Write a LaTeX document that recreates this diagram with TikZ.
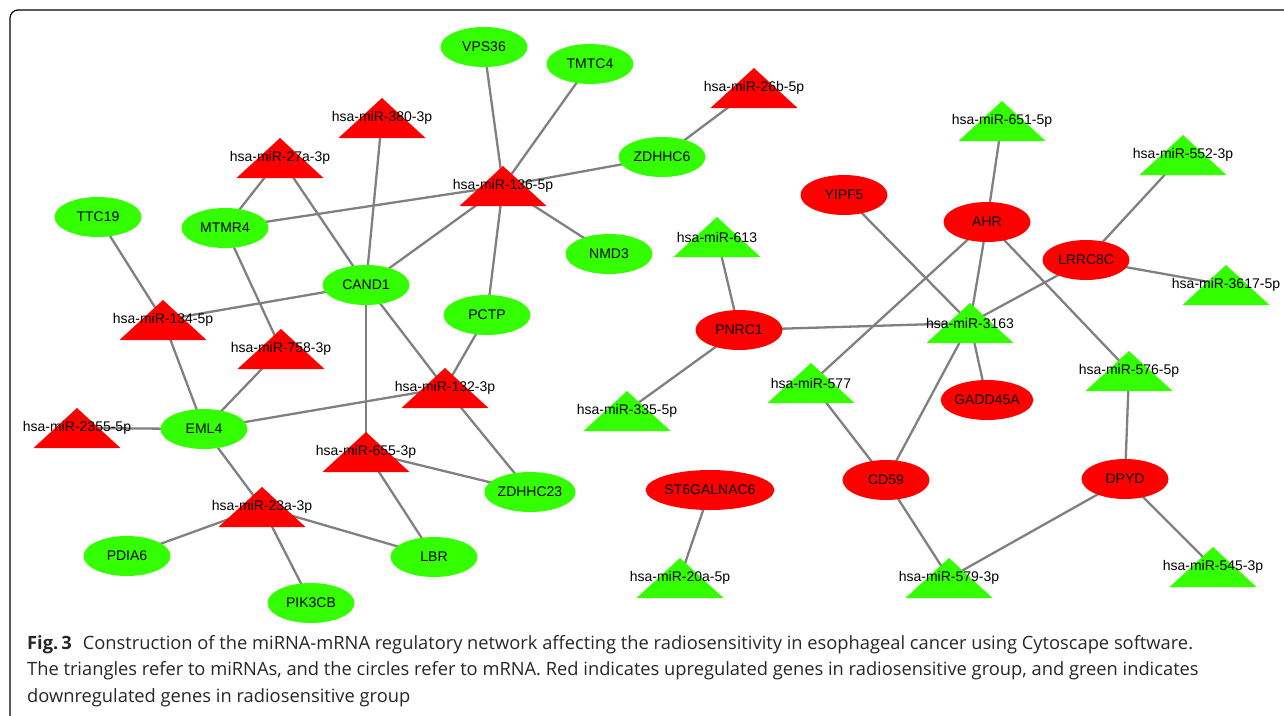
\documentclass[tikz,border=0pt]{standalone}
\usepackage{fontspec}
\setmainfont{Liberation Sans}
\newfontfamily\capfont{Open Sans}
\usetikzlibrary{shapes.geometric,backgrounds}
\definecolor{upred}{RGB}{255,0,0}
\definecolor{downgreen}{RGB}{51,255,0}
\definecolor{edgegray}{RGB}{128,128,128}
\tikzset{
  gene/.style={ellipse, minimum width=87pt, minimum height=40pt, inner sep=0pt, font=\fontsize{14}{16}\selectfont},
  up/.style={fill=upred},
  down/.style={fill=downgreen},
  mlabel/.style={inner sep=0pt, font=\fontsize{14}{16}\selectfont},
  edge/.style={draw=edgegray, line width=2.3pt},
  capline/.style={anchor=base west, inner sep=0pt, font=\capfont\fontsize{18.3}{22}\selectfont, text=black!85},
  frame/.style={draw=black, line width=1.2pt, rounded corners=8pt}
}
\newcommand\mirna[5]{%
  \fill[#4] ({#2-43.5},{#3+20}) -- ({#2},{#3-20}) -- ({#2+43.5},{#3+20}) -- cycle;
  \node[mlabel] (#1) at (#2,#3) {#5};}
\begin{document}
\begin{tikzpicture}[x=1pt,y=-1pt]
\useasboundingbox (0,0) rectangle (1284,715);
\clip (0,0) rectangle (1284,715);
\draw[frame] (10,740) -- (10,10) -- (1310,10);
% green genes
\node[gene,down] (TTC19) at (98,217) {TTC19};
\node[gene,down] (MTMR4) at (225,228) {MTMR4};
\node[gene,down] (CAND1) at (366,285) {CAND1};
\node[gene,down] (VPS36) at (484,47) {VPS36};
\node[gene,down] (TMTC4) at (590,64) {TMTC4};
\node[gene,down] (ZDHHC6) at (662,157) {ZDHHC6};
\node[gene,down] (NMD3) at (609,254) {NMD3};
\node[gene,down] (PCTP) at (487,315) {PCTP};
\node[gene,down] (EML4) at (204,429) {EML4};
\node[gene,down] (ZDHHC23) at (530,492) {ZDHHC23};
\node[gene,down] (LBR) at (434,557) {LBR};
\node[gene,down] (PDIA6) at (127,556) {PDIA6};
\node[gene,down] (PIK3CB) at (311,603) {PIK3CB};
% red genes
\node[gene,up] (YIPF5) at (844,195) {YIPF5};
\node[gene,up] (AHR) at (987,222) {AHR};
\node[gene,up] (LRRC8C) at (1086,260) {LRRC8C};
\node[gene,up] (PNRC1) at (739,330) {PNRC1};
\node[gene,up] (GADD45A) at (987,400) {GADD45A};
\node[gene,up] (CD59) at (886,480) {CD59};
\node[gene,up] (DPYD) at (1125,479) {DPYD};
\node[gene,up] (ST6GALNAC6) at (710,490) {ST6GALNAC6};
% red miRNAs
\mirna{m27a}{280}{158}{upred}{hsa-miR-27a-3p}
\mirna{m380}{382}{118}{upred}{hsa-miR-380-3p}
\mirna{m26b}{754}{88}{upred}{hsa-miR-26b-5p}
\mirna{m136}{503}{186}{upred}{hsa-miR-136-5p}
\mirna{m134}{163}{320}{upred}{hsa-miR-134-5p}
\mirna{m758}{281}{349}{upred}{hsa-miR-758-3p}
\mirna{m2355}{77}{428}{upred}{hsa-miR-2355-5p}
\mirna{m132}{445}{388}{upred}{hsa-miR-132-3p}
\mirna{m655}{366}{452}{upred}{hsa-miR-655-3p}
\mirna{m23a}{262}{507}{upred}{hsa-miR-23a-3p}
% green miRNAs
\mirna{m613}{717}{237}{downgreen}{hsa-miR-613}
\mirna{m651}{1002}{121}{downgreen}{hsa-miR-651-5p}
\mirna{m552}{1183}{155}{downgreen}{hsa-miR-552-3p}
\mirna{m3617}{1226}{285}{downgreen}{hsa-miR-3617-5p}
\mirna{m3163}{970}{323}{downgreen}{hsa-miR-3163}
\mirna{m577}{811}{383}{downgreen}{hsa-miR-577}
\mirna{m576}{1129}{371}{downgreen}{hsa-miR-576-5p}
\mirna{m335}{627}{411}{downgreen}{hsa-miR-335-5p}
\mirna{m20a}{680}{578}{downgreen}{hsa-miR-20a-5p}
\mirna{m579}{949}{578}{downgreen}{hsa-miR-579-3p}
\mirna{m545}{1213}{567}{downgreen}{hsa-miR-545-3p}
% edges
\begin{scope}[on background layer]
\foreach \a/\b in {TTC19/m134, MTMR4/m27a, MTMR4/m136, MTMR4/m758, m27a/CAND1, m380/CAND1,
  CAND1/m136, CAND1/m134, CAND1/m132, CAND1/m655, VPS36/m136, TMTC4/m136, ZDHHC6/m136,
  ZDHHC6/m26b, NMD3/m136, PCTP/m136, PCTP/m132, m134/EML4, m758/EML4, m2355/EML4,
  EML4/m132, EML4/m23a, m132/ZDHHC23, m655/ZDHHC23, m655/LBR, m23a/PDIA6, m23a/PIK3CB,
  m23a/LBR, m613/PNRC1, PNRC1/m335, PNRC1/m3163, ST6GALNAC6/m20a, YIPF5/m3163, AHR/m651,
  AHR/m3163, AHR/m577, AHR/m576, LRRC8C/m552, LRRC8C/m3617, LRRC8C/m3163, m3163/GADD45A,
  m3163/CD59, m577/CD59, CD59/m579, DPYD/m579, DPYD/m576, DPYD/m545}
  \draw[edge] (\a.center) -- (\b.center);
\end{scope}
% caption
\node[capline] (cap1) at (27,649) {\textbf{Fig.\,3}\hspace{0.6em}Construction of the miRNA-mRNA regulatory network affecting the radiosensitivity in esophageal cancer using Cytoscape software.};
\node[capline] (cap2) at (27,675) {The triangles refer to miRNAs, and the circles refer to mRNA. Red indicates upregulated genes in radiosensitive group, and green indicates};
\node[capline] (cap3) at (27,702) {downregulated genes in radiosensitive group};
\end{tikzpicture}
\end{document}
